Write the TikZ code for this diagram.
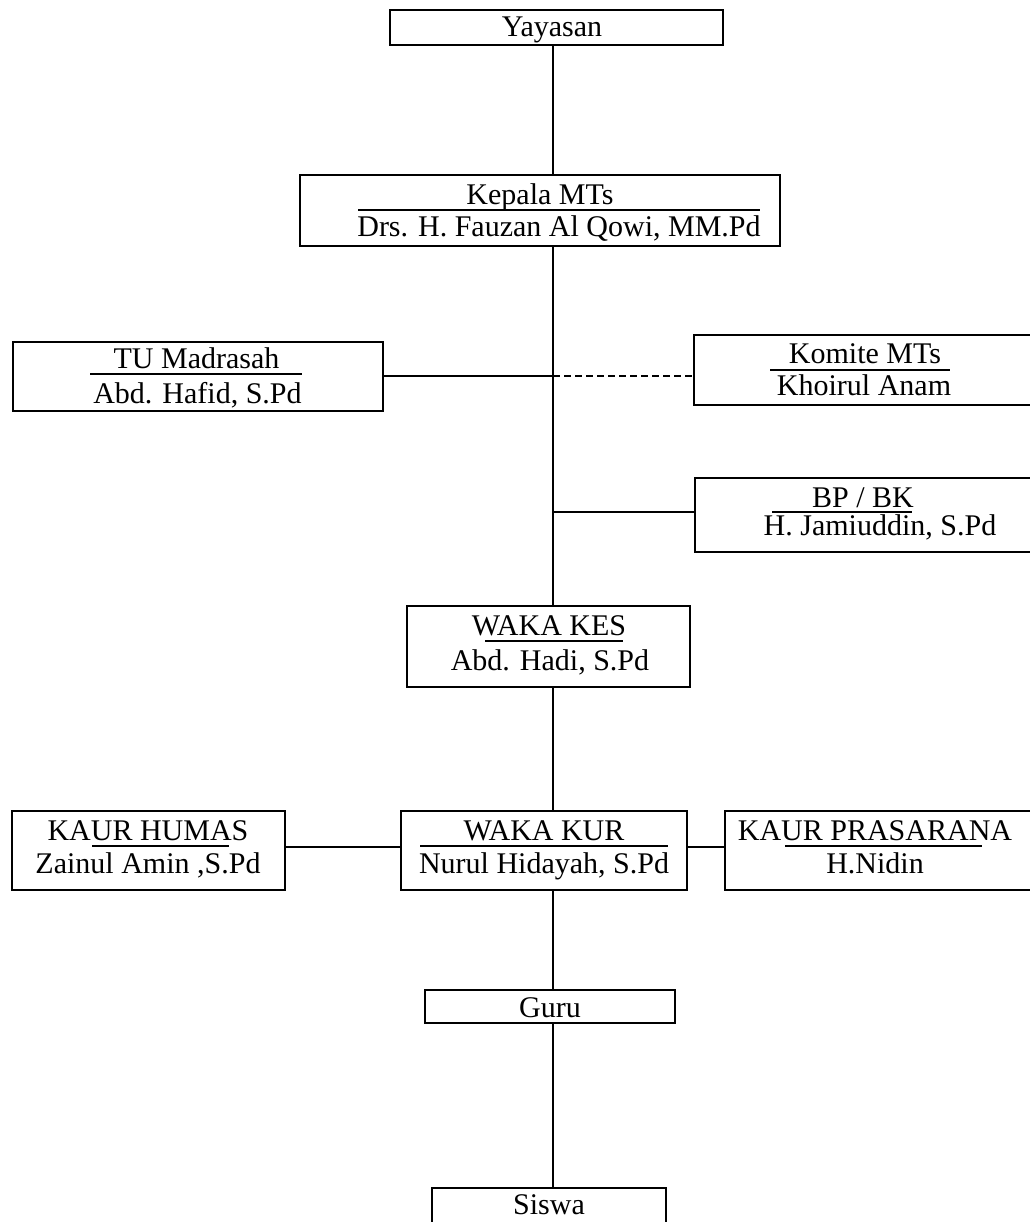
\documentclass[tikz,border=0pt]{standalone}
\usepackage{fontspec}
\setmainfont{Liberation Serif}
\begin{document}
\begin{tikzpicture}[x=1pt,y=-1pt,
  box/.style={draw, line width=2.4pt, rectangle, inner sep=0pt},
  lbl/.style={anchor=base, inner sep=0pt, font=\fontsize{30}{34}\selectfont},
  conn/.style={line width=1.7pt},
  sepline/.style={line width=2pt},
  dashconn/.style={line width=1.5pt, dash pattern=on 7pt off 4pt}]
\useasboundingbox (0,0) rectangle (1029,1222);
% boxes
\node[box, minimum width=333pt, minimum height=35pt] (yay) at (556.5,27.5) {};
\node[box, minimum width=480pt, minimum height=71pt] (kep) at (540,210.5) {};
\node[box, minimum width=370pt, minimum height=69pt] (tu) at (198,376.5) {};
\node[box, minimum width=345pt, minimum height=70pt] (kom) at (866.5,370) {};
\node[box, minimum width=345pt, minimum height=74pt] (bp) at (867.5,515) {};
\node[box, minimum width=283pt, minimum height=81pt] (kes) at (548.5,646.5) {};
\node[box, minimum width=273pt, minimum height=79pt] (humas) at (148.5,850.5) {};
\node[box, minimum width=286pt, minimum height=79pt] (kur) at (544,850.5) {};
\node[box, minimum width=310pt, minimum height=79pt] (pras) at (880,850.5) {};
\node[box, minimum width=250pt, minimum height=33pt] (guru) at (550,1006.5) {};
\node[box, minimum width=234pt, minimum height=60pt] (siswa) at (549,1218) {};
% texts
\node[lbl] (tyay) at (552,37) {Yayasan};
\node[lbl] (tkep1) at (540,205) {Kepala MTs};
\node[lbl] (tkep2) at (559,237) {Drs. H. Fauzan Al Qowi, MM.Pd};
\node[lbl] (ttu1) at (196.5,368) {TU Madrasah};
\node[lbl] (ttu2) at (197.5,403) {Abd. Hafid, S.Pd};
\node[lbl] (tkom1) at (865,363) {Komite MTs};
\node[lbl] (tkom2) at (864,395) {Khoirul Anam};
\node[lbl] (tbp1) at (863,507) {BP / BK};
\node[lbl] (tbp2) at (880,535) {H. Jamiuddin, S.Pd};
\node[lbl] (tkes1) at (549,635) {WAKA KES};
\node[lbl] (tkes2) at (550,670) {Abd. Hadi, S.Pd};
\node[lbl] (thum1) at (148,840) {KAUR HUMAS};
\node[lbl] (thum2) at (148,873) {Zainul Amin ,S.Pd};
\node[lbl] (tkur1) at (544,840) {WAKA KUR};
\node[lbl] (tkur2) at (544,873) {Nurul Hidayah, S.Pd};
\node[lbl] (tpra1) at (875,840) {KAUR PRASARANA};
\node[lbl] (tpra2) at (875,873) {H.Nidin};
\node[lbl] (tguru) at (550,1017) {Guru};
\node[lbl] (tsis) at (549,1214) {Siswa};
% separators
\draw[sepline] (358,210) -- (760,210);
\draw[sepline] (90,374) -- (302,374);
\draw[sepline] (770,370) -- (950,370);
\draw[sepline] (772,512) -- (912,512);
\draw[sepline] (485,641) -- (623,641);
\draw[sepline] (92,846) -- (229,846);
\draw[sepline] (420,846) -- (668,846);
\draw[sepline] (785,846) -- (982,846);
% spine
\coordinate (sp) at (553,0);
\coordinate (j1) at (553,376);
\coordinate (j2) at (553,512);
\coordinate (j3) at (0,847);
\draw[conn] (sp |- yay.south) -- (sp |- kep.north);
\draw[conn] (sp |- kep.south) -- (sp |- kes.north);
\draw[conn] (tu.east |- j1) -- (j1);
\draw[dashconn] (j1) -- (kom.west |- j1);
\draw[conn] (j2) -- (bp.west |- j2);
\draw[conn] (sp |- kes.south) -- (sp |- kur.north);
\draw[conn] (humas.east |- j3) -- (kur.west |- j3);
\draw[conn] (kur.east |- j3) -- (pras.west |- j3);
\draw[conn] (sp |- kur.south) -- (sp |- guru.north);
\draw[conn] (sp |- guru.south) -- (sp |- siswa.north);
\end{tikzpicture}
\end{document}
